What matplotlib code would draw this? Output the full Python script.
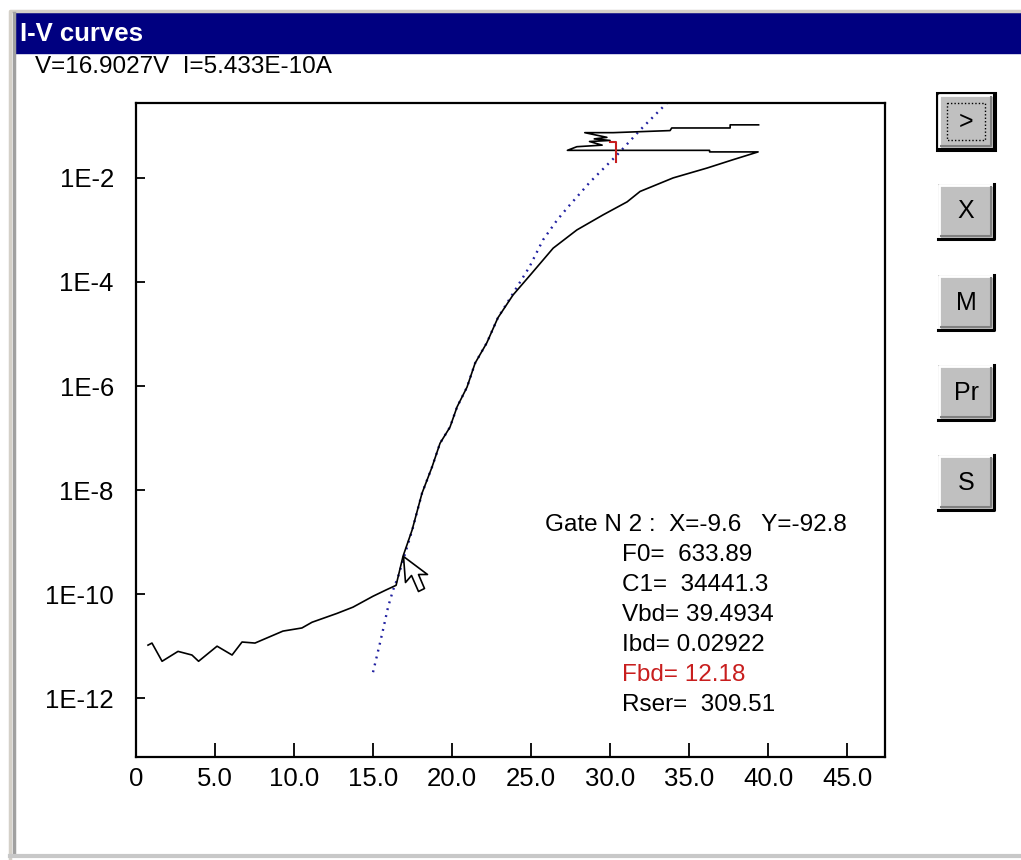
import numpy as np
import matplotlib.pyplot as plt
from matplotlib.patches import Rectangle
from matplotlib.path import Path
from matplotlib.ticker import NullLocator

# measured I-V curve: voltage (V) and log10 of current (A)
iv_v = [0.76, 1.01, 1.65, 2.66, 3.54, 3.96, 5.13, 6.08, 6.71, 7.53, 9.30, 10.5,
        11.14, 12.72, 13.73, 15.0, 15.82, 16.46, 16.9, 17.47, 18.1, 18.73, 19.24,
        19.87, 20.32, 20.95, 21.46, 22.2, 22.9, 23.86, 24.94, 26.4, 27.9, 29.56,
        31.08, 31.9, 33.99, 36.14, 37.78, 39.37,
        36.3, 36.3, 27.3, 27.9, 29.5, 28.7, 30.0, 29.0, 29.8, 28.4, 30.2, 33.8,
        33.9, 37.6, 37.6, 39.4]
iv_log_i = [-10.98, -10.94, -11.29, -11.10, -11.17, -11.29, -11.0, -11.17, -10.92,
            -10.94, -10.71, -10.65, -10.54, -10.37, -10.25, -10.04, -9.92, -9.83,
            -9.27, -8.77, -8.06, -7.56, -7.10, -6.79, -6.40, -6.02, -5.56, -5.17,
            -4.69, -4.25, -3.87, -3.35, -3.0, -2.71, -2.46, -2.26, -2.0, -1.81,
            -1.65, -1.50,
            -1.50, -1.47, -1.47, -1.40, -1.37, -1.30, -1.28, -1.25, -1.22, -1.13,
            -1.13, -1.09, -1.04, -1.04, -0.98, -0.98]

# fitted curve (blue dotted)
fit_v = [15.0, 15.44, 15.63, 15.95, 16.27, 16.58, 17.0, 17.5, 18.1, 18.73, 19.24,
         19.87, 20.32, 20.95, 21.46, 22.2, 22.9, 23.86, 24.9, 25.76, 26.65, 27.28,
         28.73, 30.44, 31.9, 33.6]
fit_log_i = [-11.5, -10.94, -10.69, -10.25, -9.92, -9.67, -9.25, -8.75, -8.06,
             -7.56, -7.10, -6.79, -6.40, -6.02, -5.56, -5.17, -4.69, -4.22, -3.71,
             -3.19, -2.81, -2.58, -2.08, -1.56, -1.08, -0.56]

# breakdown marker (red)
bd_v = [30.0, 30.38, 30.38]
bd_log_i = [-1.30, -1.30, -1.69]

cursor_v = 16.9027
cursor_i = 5.433e-10

x_ticks = [0, 5, 10, 15, 20, 25, 30, 35, 40, 45]
x_labels = ['0', '5.0', '10.0', '15.0', '20.0', '25.0', '30.0', '35.0', '40.0', '45.0']
y_ticks = [1e-2, 1e-4, 1e-6, 1e-8, 1e-10, 1e-12]
y_labels = ['1E-2', '1E-4', '1E-6', '1E-8', '1E-10', '1E-12']

gate_line = 'Gate N 2 :  X=-9.6   Y=-92.8'
info_lines = ['F0=  633.89', 'C1=  34441.3', 'Vbd= 39.4934', 'Ibd= 0.02922',
              'Fbd= 12.18', 'Rser=  309.51']
info_colors = ['black', 'black', 'black', 'black', '#c81e1e', 'black']
btn_labels = ['>', 'X', 'M', 'Pr', 'S']

plt.rcParams['font.family'] = ['Liberation Sans', 'DejaVu Sans']

fig = plt.figure(figsize=(10.21, 8.60), dpi=100)

# window chrome in pixel coordinates
bg = fig.add_axes([0, 0, 1, 1])
bg.set_xlim(0, 1021)
bg.set_ylim(860, 0)
bg.axis('off')
bg.plot([9.5, 9.5, 1021], [858, 11, 11], color='#d4d0c8', lw=2.5)
bg.plot([13.5, 13.5], [13, 855], color='#a0a0a0', lw=2.5)
bg.plot([9.5, 1021], [856, 856], color='#c8c8c8', lw=3)
bg.add_patch(Rectangle((15, 13), 1010, 40, color='#000080'))
bg.text(20, 34, 'I-V curves', color='white', fontsize=18.5, fontweight='bold',
        va='center', ha='left')
bg.text(35, 67, 'V=16.9027V  I=5.433E-10A', fontsize=17.5, va='center', ha='left')

bx, bw, bh = 938, 56, 55
btn_tops = [94, 184, 275, 365, 455]
for label, top in zip(btn_labels, btn_tops):
    bg.add_patch(Rectangle((bx, top), bw, bh, fc='#c0c0c0', ec='none'))
    bg.plot([bx + 1, bx + 1, bx + bw - 1], [top + bh - 1, top + 1, top + 1],
            color='white', lw=2)
    bg.plot([bx + 3, bx + bw - 3, bx + bw - 3], [top + bh - 3, top + bh - 3, top + 3],
            color='#808080', lw=1.5)
    bg.plot([bx, bx + bw, bx + bw], [top + bh, top + bh, top], color='black', lw=2.2)
    if label == '>':
        bg.add_patch(Rectangle((bx - 1, top - 1), bw + 2, bh + 2, fc='none',
                               ec='black', lw=2.2))
        bg.add_patch(Rectangle((bx + 9, top + 9), bw - 18, bh - 18, fc='none',
                               ec='black', lw=1, ls=(0, (1, 1.5))))
    bg.text(bx + bw / 2, top + bh / 2, label, fontsize=18, ha='center', va='center')

# plot area
ax = fig.add_axes([136 / 1021, 1 - 757 / 860, 749 / 1021, 654 / 860])
ax.set_facecolor('white')
ax.set_yscale('log')
ax.set_xlim(0, 47.4)
ax.set_ylim(10 ** -13.13, 10 ** -0.56)

ax.plot(fit_v, 10.0 ** np.array(fit_log_i), color='#2020a0', lw=1.7,
        ls=(0, (0.8, 2.2)), zorder=2)
ax.plot(iv_v, 10.0 ** np.array(iv_log_i), color='black', lw=1.2, zorder=3)
ax.plot(bd_v, 10.0 ** np.array(bd_log_i), color='#c81e1e', lw=1.5, zorder=4)

arrow = Path([(0, 0), (2, -26), (8, -19), (15, -35), (21, -32), (15, -18),
              (24, -18), (0, 0)],
             [Path.MOVETO] + [Path.LINETO] * 6 + [Path.CLOSEPOLY])
ax.plot([cursor_v], [cursor_i], marker=arrow, ms=50.4, mfc='white', mec='black',
        mew=1.2, ls='none', zorder=5, clip_on=False)

ax.set_xticks(x_ticks)
ax.set_xticklabels(x_labels)
ax.set_yticks(y_ticks)
ax.set_yticklabels(y_labels)
ax.yaxis.set_minor_locator(NullLocator())
ax.tick_params(axis='x', direction='in', length=10, width=1.3, pad=7, labelsize=18.5)
ax.tick_params(axis='y', direction='in', length=6.5, width=1.3, pad=16, labelsize=18.5)
for s in ax.spines.values():
    s.set_linewidth(1.6)

# fit results, placed in window pixels
fig.text(545 / 1021, 1 - 525 / 860, gate_line, fontsize=17.5, va='center', ha='left')
for i, (line, col) in enumerate(zip(info_lines, info_colors)):
    fig.text(622 / 1021, 1 - (555 + 30 * i) / 860, line, fontsize=17.5,
             va='center', ha='left', color=col)

fig.savefig('out.png', dpi=100)
